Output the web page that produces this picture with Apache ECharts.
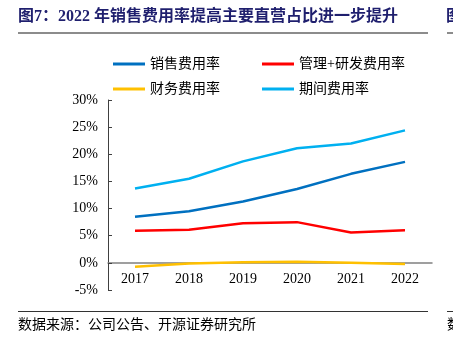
<!DOCTYPE html>
<html><head><meta charset="utf-8">
<script src="https://cdn.jsdelivr.net/npm/echarts@6/dist/echarts.min.js"></script>
<style>html,body{margin:0;padding:0;background:#fff}#c{width:453px;height:340px}</style>
</head><body><div id="c"></div>
<script>
var categories = ['2017','2018','2019','2020','2021','2022'];
var salesRate = [8.5, 9.5, 11.3, 13.6, 16.4, 18.6];
var adminRdRate = [5.9, 6.1, 7.3, 7.5, 5.6, 6.0];
var financeRate = [-0.7, -0.1, 0.1, 0.2, 0.0, -0.2];
var periodRate = [13.7, 15.5, 18.7, 21.1, 22.0, 24.4];
var seriesNames = ['销售费用率','管理+研发费用率','财务费用率','期间费用率'];
var colors = ['#0070C0','#FF0000','#FFC000','#00B0F0'];
var serif = "'Liberation Serif','Noto Sans CJK SC',serif";
var cjk = "'Liberation Serif','Noto Sans CJK SC',serif";

var chart = echarts.init(document.getElementById('c'));
function mk(i, data){
  return {name: seriesNames[i], type:'line', data:data, symbol:'none',
    lineStyle:{color:colors[i], width:2.5}, itemStyle:{color:colors[i]}};
}
var legendCommon = {icon:'path://M0,0 L32,0 L32,3 L0,3 Z', itemWidth:32, itemHeight:3, itemGap:42,
  textStyle:{fontFamily:cjk, fontSize:14, color:'#000', padding:[0,0,0,0]}, selectedMode:false};
chart.setOption({
  animation:false,
  textStyle:{fontFamily:serif},
  grid:{left:108, right:21, top:100, bottom:50, containLabel:false},
  legend:[
    Object.assign({left:108, top:52, data:[seriesNames[0],seriesNames[1]]}, legendCommon),
    Object.assign({left:108, top:77, data:[seriesNames[2],seriesNames[3]]}, legendCommon)
  ],
  xAxis:{type:'category', data:categories, boundaryGap:true,
    axisLine:{onZero:true, lineStyle:{color:'#808080', width:1.5}},
    axisTick:{inside:true, length:4, lineStyle:{color:'#404040'}},
    axisLabel:{fontFamily:serif, fontSize:14, color:'#000', margin:-18}},
  yAxis:{type:'value', min:-5, max:30, interval:5,
    splitLine:{show:false},
    axisLine:{show:true, lineStyle:{color:'#404040'}},
    axisTick:{show:true, inside:true, length:4, lineStyle:{color:'#404040'}},
    axisLabel:{fontFamily:serif, fontSize:14, color:'#000', formatter:'{value}%', margin:10}},
  series:[mk(0,salesRate), mk(1,adminRdRate), mk(2,financeRate), mk(3,periodRate)],
  graphic:[
    {type:'text', left:18, top:9, style:{text:'图7：2022 年销售费用率提高主要直营占比进一步提升', fontFamily:cjk, fontWeight:'bold', fontSize:16, fill:'#1F1F6E'}},
    {type:'rect', shape:{x:18, y:32, width:410, height:2}, style:{fill:'#8C8C8C'}},
    {type:'text', left:446, top:9, style:{text:'图', fontFamily:cjk, fontWeight:'bold', fontSize:16, fill:'#1F1F6E'}},
    {type:'rect', shape:{x:447, y:32, width:6, height:2}, style:{fill:'#8C8C8C'}},
    {type:'rect', shape:{x:18, y:311, width:410, height:1}, style:{fill:'#333'}},
    {type:'rect', shape:{x:447, y:311, width:6, height:1}, style:{fill:'#333'}},
    {type:'text', left:18, top:318, style:{text:'数据来源：公司公告、开源证券研究所', fontFamily:cjk, fontSize:14, fill:'#000'}},
    {type:'text', left:447, top:318, style:{text:'数', fontFamily:cjk, fontSize:14, fill:'#000'}}
  ]
});
</script></body></html>
